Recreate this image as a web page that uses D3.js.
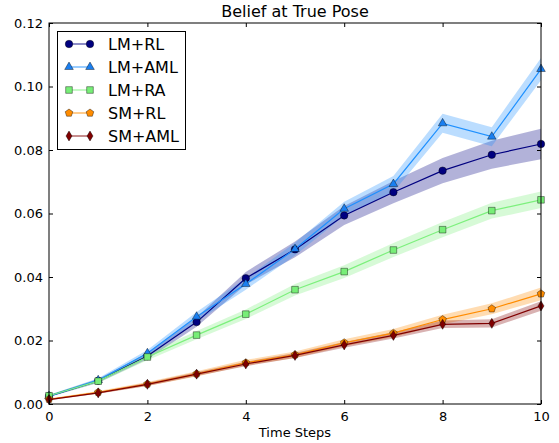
<!DOCTYPE html>
<html><head><meta charset="utf-8">
<script src="https://cdn.jsdelivr.net/npm/d3@7"></script>
<style>
body{margin:0;background:#fff;}
text{font-family:"DejaVu Sans",sans-serif;fill:#000;}
</style></head>
<body><svg id="c" width="559" height="443"></svg>
<script>
const steps = [0,1,2,3,4,5,6,7,8,9,10];
const lmRL  = [0.0025,0.0073,0.0151,0.0258,0.0396,0.0487,0.0594,0.0667,0.0735,0.0785,0.0819];
const lmAML = [0.0025,0.0075,0.0160,0.0275,0.0378,0.0488,0.0615,0.0693,0.0884,0.0842,0.1055];
const lmRA  = [0.0026,0.0072,0.0148,0.0217,0.0283,0.0360,0.0417,0.0485,0.0549,0.0609,0.0643];
const smRL  = [0.0015,0.0037,0.0063,0.0095,0.0130,0.0155,0.0193,0.0223,0.0266,0.0300,0.0347];
const smAML = [0.0014,0.0035,0.0062,0.0094,0.0126,0.0153,0.0186,0.0216,0.0251,0.0254,0.0309];
const lmRLErr  = [0.0003,0.0006,0.0010,0.0015,0.0020,0.0025,0.0030,0.0035,0.0040,0.0044,0.0048];
const lmAMLErr = [0.0003,0.0006,0.0010,0.0015,0.0018,0.0020,0.0022,0.0025,0.0030,0.0030,0.0035];
const lmRAErr  = [0.0003,0.0006,0.0010,0.0013,0.0015,0.0018,0.0020,0.0022,0.0024,0.0025,0.0026];
const smRLErr  = [0.0002,0.0004,0.0006,0.0008,0.0009,0.0010,0.0011,0.0013,0.0015,0.0017,0.0020];
const smAMLErr = [0.0002,0.0003,0.0005,0.0006,0.0007,0.0008,0.0009,0.0010,0.0012,0.0013,0.0015];
const xTicks = [0,2,4,6,8,10];
const yTicks = [0,0.02,0.04,0.06,0.08,0.10,0.12];

const series = [
  {name:"LM+RL",  vals:lmRL,  err:lmRLErr,  fill:"#000080", line:"#000080", band:"#000080", marker:"circle"},
  {name:"LM+AML", vals:lmAML, err:lmAMLErr, fill:"#1a7ff0", line:"#1e90ff", band:"#1e90ff", marker:"triangle"},
  {name:"LM+RA",  vals:lmRA,  err:lmRAErr,  fill:"#77ee77", line:"#7cf07c", band:"#7cf07c", marker:"square"},
  {name:"SM+RL",  vals:smRL,  err:smRLErr,  fill:"#ff8c00", line:"#ff8c00", band:"#ff8c00", marker:"pentagon"},
  {name:"SM+AML", vals:smAML, err:smAMLErr, fill:"#800000", line:"#800000", band:"#800000", marker:"diamond"}
];

const svg = d3.select("#c");
const L=49, R=541, T=23, B=404;
const x = d3.scaleLinear().domain([0,10]).range([L,R]);
const y = d3.scaleLinear().domain([0,0.12]).range([B,T]);

function markerPath(type){
  if(type==="circle") return d3.symbol(d3.symbolCircle, 44)();
  if(type==="triangle") return d3.symbol(d3.symbolTriangle, 32)();
  if(type==="square") return d3.symbol(d3.symbolSquare, 44)();
  if(type==="pentagon"){
    const r=4, pts=[];
    for(let i=0;i<5;i++){const a=-Math.PI/2+i*2*Math.PI/5; pts.push([r*Math.cos(a), r*Math.sin(a)]);}
    return "M"+pts.map(p=>p.join(",")).join("L")+"Z";
  }
  if(type==="diamond") return "M0,-5L3,0L0,5L-3,0Z";
}

const plot = svg.append("g");
series.forEach(s=>{
  const area = d3.area().x((d,i)=>x(steps[i])).y0((d,i)=>y(d-s.err[i])).y1((d,i)=>y(d+s.err[i]));
  plot.append("path").attr("d",area(s.vals)).attr("fill",s.band).attr("fill-opacity",0.3).attr("stroke","none");
});
series.forEach(s=>{
  const line = d3.line().x((d,i)=>x(steps[i])).y(d=>y(d));
  plot.append("path").attr("d",line(s.vals)).attr("fill","none").attr("stroke",s.line).attr("stroke-width",1.2);
  plot.selectAll(null).data(s.vals).enter().append("path")
    .attr("d",markerPath(s.marker))
    .attr("transform",(d,i)=>`translate(${x(steps[i])},${y(d)})`)
    .attr("fill",s.fill).attr("stroke","#000").attr("stroke-width",0.5).attr("stroke-opacity",0.8);
});

svg.append("rect").attr("x",L).attr("y",T).attr("width",R-L).attr("height",B-T)
  .attr("fill","none").attr("stroke","#000").attr("stroke-width",1);

const xa = d3.axisBottom(x).tickValues(xTicks).tickFormat(d3.format("d")).tickSizeInner(-4).tickSizeOuter(0).tickPadding(8);
const gx = svg.append("g").attr("transform",`translate(0,${B})`).call(xa);
const xt = d3.axisTop(x).tickValues(xTicks).tickFormat("").tickSizeInner(-4).tickSizeOuter(0);
const gxt = svg.append("g").attr("transform",`translate(0,${T})`).call(xt);
const ya = d3.axisLeft(y).tickValues(yTicks).tickFormat(d3.format(".2f")).tickSizeInner(-4).tickSizeOuter(0).tickPadding(6);
const gy = svg.append("g").attr("transform",`translate(${L},0)`).call(ya);
const yr = d3.axisRight(y).tickValues(yTicks).tickFormat("").tickSizeInner(-4).tickSizeOuter(0);
const gyr = svg.append("g").attr("transform",`translate(${R},0)`).call(yr);
[gx,gxt,gy,gyr].forEach(g=>{
  g.select(".domain").remove();
  g.selectAll("text").style("font-family","DejaVu Sans").style("font-size","13px").attr("fill","#000");
  g.selectAll("line").attr("stroke","#000");
});

svg.append("text").attr("x",(L+R)/2).attr("y",17).attr("text-anchor","middle").style("font-size","16px").text("Belief at True Pose");
svg.append("text").attr("x",(L+R)/2).attr("y",437).attr("text-anchor","middle").style("font-size","13px").text("Time Steps");

const lg = svg.append("g");
lg.append("rect").attr("x",57.5).attr("y",31.5).attr("width",128).attr("height",118).attr("fill","#fff").attr("stroke","#000").attr("stroke-width",1);
series.forEach((s,i)=>{
  const yy = 44 + i*23;
  lg.append("line").attr("x1",69).attr("x2",90).attr("y1",yy).attr("y2",yy).attr("stroke",s.line).attr("stroke-width",1.5).attr("stroke-opacity",0.6);
  [69,90].forEach(xx=>{
    lg.append("path").attr("d",markerPath(s.marker)).attr("transform",`translate(${xx},${yy})`)
      .attr("fill",s.fill).attr("stroke","#000").attr("stroke-width",0.5).attr("stroke-opacity",0.8);
  });
  lg.append("text").attr("x",108).attr("y",yy+6).style("font-size","16px").text(s.name);
});
</script></body></html>
